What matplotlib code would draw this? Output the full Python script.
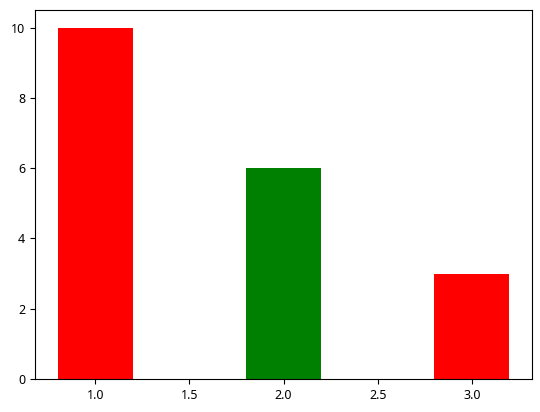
import matplotlib
matplotlib.use("Agg")
import matplotlib.pyplot as plt

x = [1, 2, 3]
heights = [10, 6, 3]
colors = ["red", "green", "red"]

plt.rcParams['font.family'] = ['Noto Sans', 'DejaVu Sans']
fig = plt.figure(figsize=(5.4, 4.12), dpi=100)
ax = fig.add_axes([35/540, 33/412, 497/540, 369/412])
ax.bar(x, heights, width=0.4, color=colors)
ax.set_xticks([1.0, 1.5, 2.0, 2.5, 3.0])
ax.tick_params(labelsize=9)
fig.savefig("out.png", dpi=100)
